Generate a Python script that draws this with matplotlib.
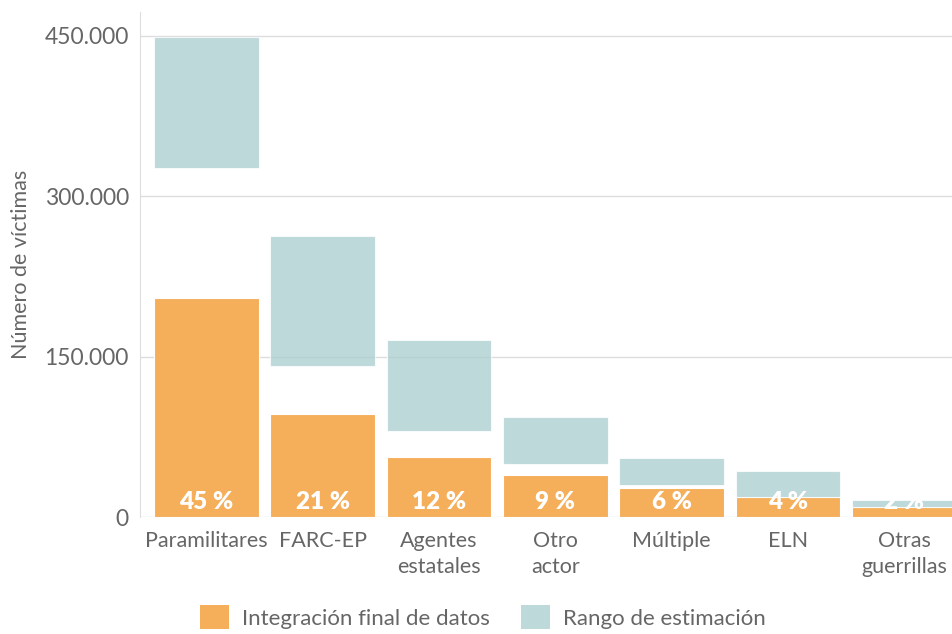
import matplotlib
matplotlib.use("Agg")
import matplotlib.pyplot as plt
from matplotlib.patches import Patch
from matplotlib.ticker import FuncFormatter

categories = ["Paramilitares", "FARC-EP", "Agentes\nestatales", "Otro\nactor", "Múltiple", "ELN", "Otras\nguerrillas"]
integracion = [205000, 96500, 56000, 39500, 27000, 18800, 9000]
rango_min = [326000, 141000, 80500, 49500, 29500, 19000, 9500]
rango_max = [449000, 263000, 165000, 93000, 55000, 43000, 16000]
porcentajes = ["45 %", "21 %", "12 %", "9 %", "6 %", "4 %", "2 %"]
yticks = [0, 150000, 300000, 450000]

plt.rcParams['font.family'] = ['Lato', 'DejaVu Sans']

orange = "#F5AE5A"
teal = "#A9CDCE"
txt = "#666666"

fig = plt.figure(figsize=(9.52, 6.34), dpi=100)
ax = fig.add_axes([140/952, (634-517)/634, 1-140/952, (517-12)/634])

x = list(range(len(categories)))
ax.bar(x, integracion, width=0.9, color=orange, edgecolor="white", linewidth=0.8, zorder=2)
ax.bar(x, [b - a for a, b in zip(rango_min, rango_max)], bottom=rango_min, width=0.9,
       color=teal, alpha=0.75, edgecolor="white", linewidth=0.8, zorder=3)

for xi, p in zip(x, porcentajes):
    ax.text(xi, 3500, p, ha="center", va="bottom", color="white", fontsize=17.5,
            fontweight="heavy", zorder=5)

ax.set_xlim(-0.57, 6.41)
ax.set_ylim(0, 472000)
ax.set_yticks(yticks)
ax.yaxis.set_major_formatter(FuncFormatter(lambda v, p: f"{int(v):,}".replace(",", ".")))
ax.set_xticks(x)
ax.set_xticklabels(categories, fontsize=15.5, color=txt, linespacing=1.4)
ax.tick_params(axis="y", length=0, labelsize=16.5, labelcolor=txt, pad=8)
ax.tick_params(axis="x", length=0, pad=10)
ax.grid(axis="y", color="#dddddd", linewidth=1, zorder=1)
ax.set_axisbelow(True)
for s in ["top", "right", "bottom"]:
    ax.spines[s].set_visible(False)
ax.spines["left"].set_color("#dddddd")
ax.set_ylabel("Número de víctimas", fontsize=15.5, color=txt, labelpad=10)

handles = [Patch(facecolor=orange, edgecolor="none", label="Integración final de datos"),
           Patch(facecolor="#BED9DA", edgecolor="none", label="Rango de estimación")]
fig.legend(handles=handles, loc="lower left", bbox_to_anchor=(180/952, -0.024), ncol=2,
           frameon=False, fontsize=16, handlelength=1.3, handleheight=1.3,
           columnspacing=1.4, handletextpad=0.6, labelcolor=txt)

fig.savefig("out.png", dpi=100)
